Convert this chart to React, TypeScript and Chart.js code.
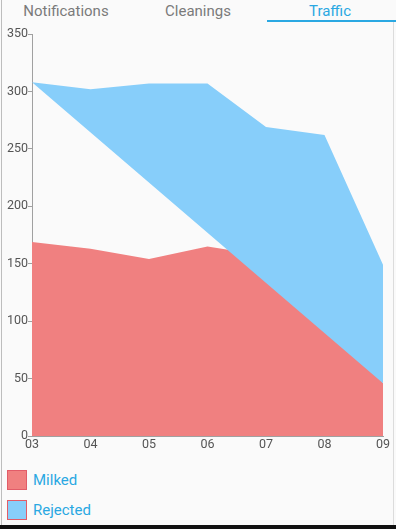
import React, { useEffect, useRef } from "react";
import { Chart, registerables } from "chart.js";

Chart.register(...registerables);

const categories = ["03", "04", "05", "06", "07", "08", "09"];
const milked = [169, 163, 154, 165, 157, 120, 46];
const rejected = [308, 302, 307, 307, 269, 262, 149];
const yTicksMax = 350;
const yStep = 50;
const tabs = ["Notifications", "Cleanings", "Traffic"];
const activeTab = 2;

const seriesNames = ["Milked", "Rejected"];
const seriesColors = ["rgb(240,128,128)", "rgb(135,206,250)"];
const legendBorder = "rgb(226,92,104)";

export default function App() {
  const ref = useRef<HTMLCanvasElement | null>(null);

  useEffect(() => {
    document.body.style.margin = "0";
    const ctx = ref.current!.getContext("2d")!;
    const toPts = (arr: number[]) => arr.map((y, i) => ({ x: i, y }));
    const last = categories.length - 1;
    const chart = new Chart(ctx, {
      type: "line",
      data: {
        datasets: [
          {
            label: seriesNames[0],
            data: toPts(milked),
            backgroundColor: seriesColors[0],
            borderWidth: 0,
            pointRadius: 0,
            fill: "origin",
            tension: 0,
            order: 1,
          },
          {
            label: seriesNames[1],
            data: toPts(rejected),
            backgroundColor: seriesColors[1],
            borderWidth: 0,
            pointRadius: 0,
            fill: { target: 2 },
            tension: 0,
            order: 0,
          },
          {
            label: "edge",
            data: [
              { x: 0, y: rejected[0] },
              { x: last, y: milked[last] },
            ],
            borderColor: "rgba(0,0,0,0)",
            backgroundColor: "rgba(0,0,0,0)",
            borderWidth: 0,
            pointRadius: 0,
            fill: false,
            order: 2,
          },
        ],
      },
      options: {
        animation: false,
        responsive: false,
        maintainAspectRatio: false,
        layout: { padding: { top: 10, right: 13, left: 0, bottom: 0 } },
        plugins: { legend: { display: false }, tooltip: { enabled: false } },
        scales: {
          x: {
            type: "linear",
            min: 0,
            max: last,
            grid: { display: false, drawTicks: false, tickLength: 0 },
            border: { display: true, color: "#a0a0a0", width: 1 },
            ticks: {
              stepSize: 1,
              padding: 1,
              color: "#555",
              font: { family: "Roboto", size: 12.5 },
              maxRotation: 0,
              callback: (v: any) => categories[v as number] ?? "",
            },
            afterFit: (s: any) => {
              s.height = 20;
            },
          },
          y: {
            min: 0,
            max: yTicksMax,
            grid: {
              drawOnChartArea: false,
              drawTicks: true,
              tickLength: 4,
              color: "#a0a0a0",
            },
            border: { display: true, color: "#a0a0a0", width: 1 },
            ticks: {
              stepSize: yStep,
              padding: 0,
              color: "#555",
              font: { family: "Roboto", size: 12.5 },
            },
            afterFit: (s: any) => {
              s.width = 32;
            },
          },
        },
      },
    });
    return () => chart.destroy();
  }, []);

  return (
    <div
      style={{
        position: "absolute",
        left: 0,
        top: 0,
        width: 396,
        height: 529,
        background: "#fafafa",
        overflow: "hidden",
        fontFamily: "Roboto, sans-serif",
      }}
    >
      <div style={{ position: "absolute", left: 1, top: 0, width: 1, height: 525, background: "#bdbdbd" }} />
      <div style={{ position: "absolute", left: 393, top: 22, width: 1, height: 503, background: "#dcdcdc" }} />
      <div style={{ position: "absolute", left: 0, top: 525, width: 396, height: 4, background: "#111" }} />
      {tabs.map((t, i) => (
        <div
          key={t}
          style={{
            position: "absolute",
            left: i * 132,
            top: 0,
            width: 132,
            height: 22,
            lineHeight: "22px",
            textAlign: "center",
            fontSize: 15,
            color: i === activeTab ? "#2aa8e2" : "#7a7a7a",
          }}
        >
          {t}
        </div>
      ))}
      <div style={{ position: "absolute", left: 267, top: 20, width: 129, height: 2, background: "#2aa8e2" }} />
      <canvas
        ref={ref}
        width={396}
        height={432}
        style={{ position: "absolute", left: 0, top: 24, width: 396, height: 432 }}
      />
      {seriesNames.map((n, i) => (
        <div
          key={n}
          style={{ position: "absolute", left: 7, top: 469 + i * 30, height: 21, display: "flex", alignItems: "center" }}
        >
          <div
            style={{
              width: 18,
              height: 18,
              background: seriesColors[i],
              border: `1.5px solid ${legendBorder}`,
            }}
          />
          <span style={{ marginLeft: 6, fontSize: 15, color: "#2aa8e2" }}>{n}</span>
        </div>
      ))}
    </div>
  );
}
